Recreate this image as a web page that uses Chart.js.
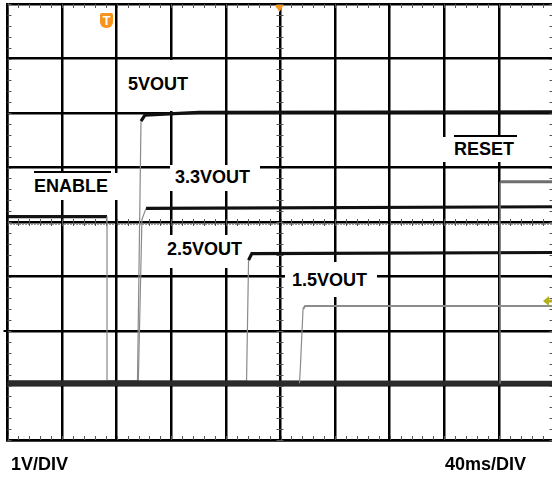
<!DOCTYPE html>
<html><head><meta charset="utf-8">
<script src="https://cdn.jsdelivr.net/npm/chart.js@4.4.1/dist/chart.umd.min.js"></script>
<style>
html,body{margin:0;padding:0;background:#fff;overflow:hidden;width:552px;height:477px;}
#wrap{position:relative;width:562px;height:477px;}
canvas{position:absolute;left:0;top:0;}
.lbl{position:absolute;background:#fff;font:bold 18px "Liberation Sans",Arial,sans-serif;line-height:18px;color:#000;white-space:nowrap;box-sizing:border-box;}
.bar{position:absolute;background:#000;height:2px;}
.txt{position:absolute;font:bold 18px "Liberation Sans",Arial,sans-serif;line-height:18px;color:#000;white-space:nowrap;}
#trig{position:absolute;left:100px;top:13px;width:13px;height:15px;background:#f7941d;border-radius:2px 2px 6px 6px;color:#fff;font:bold 13px "Liberation Sans",Arial,sans-serif;line-height:15px;text-align:center;}
</style></head>
<body>
<div id="wrap">
<canvas id="c" width="562" height="477"></canvas>
<div id="trig">T</div>
<div class="lbl" style="left:124px;top:60px;width:72px;height:51px;padding:15px 0 0 4px;">5VOUT</div>
<div class="lbl" style="left:170px;top:165px;width:90px;height:26px;padding:3px 0 0 5px;">3.3VOUT</div>
<div class="lbl" style="left:30px;top:173px;width:89px;height:27px;padding:4px 0 0 4px;">ENABLE</div>
<div class="bar" style="left:34px;top:171px;width:77px;"></div>
<div class="lbl" style="left:163px;top:235px;width:82px;height:33px;padding:5px 0 0 4px;">2.5VOUT</div>
<div class="lbl" style="left:285px;top:262px;width:92px;height:35px;padding:9px 0 0 7px;">1.5VOUT</div>
<div class="lbl" style="left:440px;top:137px;width:80px;height:25px;padding:3px 0 0 14px;">RESET</div>
<div class="bar" style="left:454px;top:135px;width:63px;"></div>
<div class="txt" style="left:11px;top:455px;">1V/DIV</div>
<div class="txt" style="left:445px;top:455px;">40ms/DIV</div>
</div>
<script>
// ---- data (time in ms, 40 ms/div; voltage in V, 1 V/div) ----
const timeAxisTicks = [0, 40, 80, 120, 160, 200, 240, 280, 320, 360, 400];
const voltAxisTicks = [-1, 0, 1, 2, 3, 4, 5, 6, 7];

const enableT = [0, 72.9, 72.9, 400];
const enableV = [3.1, 3.1, 0.04, 0.04];

const out5T = [0, 95.2, 97.8, 100.7, 140, 400];
const out5V = [0.04, 0.04, 4.85, 4.96, 5.01, 5.02];

const out33T = [0, 95.8, 98.5, 101.5, 400];
const out33V = [0.04, 0.04, 3.05, 3.25, 3.28];

const out25T = [0, 175.1, 176.6, 179, 400];
const out25V = [0.04, 0.04, 2.3, 2.42, 2.44];

const out15T = [0, 213.9, 214.5, 216.5, 218, 400];
const out15V = [0.04, 0.04, 0.3, 1.4, 1.46, 1.46];

const resetT = [0, 360.6, 360.8, 400];
const resetV = [0.04, 0.04, 3.74, 3.74];

const centerMs = 200;
const centerV = 3;

function pts(t, v){ return t.map((x,i)=>({x:x, y:v[i]})); }

function traceSeg(levelColor, levelWidth){
  const isEdge = (a, b) => Math.abs(b.y - a.y) > 0.2;
  const isBase = (a, b) => a.y < 0.1 && b.y < 0.1;
  return {
    borderWidth: ctx => {
      const a = ctx.p0.parsed, b = ctx.p1.parsed;
      if (isBase(a, b)) return 5;
      if (isEdge(a, b)) return 1.2;
      return levelWidth;
    },
    borderColor: ctx => {
      const a = ctx.p0.parsed, b = ctx.p1.parsed;
      if (isBase(a, b)) return '#2b2b2b';
      if (isEdge(a, b)) return '#8a8a8a';
      return levelColor;
    }
  };
}

function ds(label, t, v, color, width){
  return {label, data: pts(t, v), borderColor: color, borderWidth: width,
    pointRadius: 0, tension: 0, fill: false, segment: traceSeg(color, width)};
}

const decor = {
  id: 'scopeDecor',
  beforeDatasetsDraw(chart){
    const c = chart.ctx, ca = chart.chartArea, xs = chart.scales.x, ys = chart.scales.y;
    c.save();
    c.strokeStyle = '#555'; c.lineWidth = 1;
    const yC = ys.getPixelForValue(centerV), xC = xs.getPixelForValue(centerMs);
    c.beginPath();
    for (let t = 0; t <= 400; t += 8){
      const px = Math.round(xs.getPixelForValue(t)) + 0.5;
      c.moveTo(px, ca.top); c.lineTo(px, ca.top + 4);
      c.moveTo(px, ca.bottom - 4); c.lineTo(px, ca.bottom);
      c.moveTo(px, yC - 3); c.lineTo(px, yC + 4);
    }
    for (let k = 0; k <= 40; k++){
      const v = -1 + k * 0.2;
      const py = Math.round(ys.getPixelForValue(v)) + 0.5;
      c.moveTo(ca.left, py); c.lineTo(ca.left + 4, py);
      c.moveTo(ca.right - 4, py); c.lineTo(ca.right, py);
      c.moveTo(xC - 4, py); c.lineTo(xC + 3, py);
    }
    c.stroke();
    c.setLineDash([1, 2]); c.strokeStyle = '#333';
    c.beginPath(); c.moveTo(ca.left, Math.round(yC) + 2.5); c.lineTo(ca.right, Math.round(yC) + 2.5); c.stroke();
    c.setLineDash([]);
    const g = ys.getPixelForValue(1);
    c.strokeStyle = '#000'; c.lineWidth = 2;
    c.beginPath(); c.moveTo(ca.left - 4, g); c.lineTo(ca.left, g); c.stroke();
    c.restore();
  },
  afterDatasetsDraw(chart){
    const c = chart.ctx, ca = chart.chartArea, xs = chart.scales.x, ys = chart.scales.y;
    c.save();
    const cx = xs.getPixelForValue(centerMs) - 1;
    c.fillStyle = '#f7941d';
    c.beginPath(); c.moveTo(cx - 5, ca.top + 1); c.lineTo(cx + 4, ca.top + 1); c.lineTo(cx, ca.top + 8); c.closePath(); c.fill();
    const ay = ys.getPixelForValue(1.55);
    c.fillStyle = '#b0b020';
    c.beginPath(); c.moveTo(543, ay); c.lineTo(549, ay - 5); c.lineTo(549, ay + 5); c.closePath(); c.fill();
    c.fillRect(548, ay - 1.5, 4, 3);
    c.restore();
  }
};

new Chart(document.getElementById('c'), {
  type: 'line',
  data: {
    datasets: [
      ds('1.5VOUT', out15T, out15V, '#8c8c8c', 2),
      ds('RESET', resetT, resetV, '#6e6e6e', 3),
      ds('ENABLE', enableT, enableV, '#141414', 3.2),
      ds('2.5VOUT', out25T, out25V, '#111', 3.2),
      ds('3.3VOUT', out33T, out33V, '#111', 3.2),
      ds('5VOUT', out5T, out5V, '#111', 3.2)
    ]
  },
  options: {
    responsive: false,
    animation: false,
    events: [],
    layout: {padding: {left: 7.5, right: 8.5, top: 4, bottom: 37}},
    plugins: {legend: {display: false}, tooltip: {enabled: false}, title: {display: false}},
    scales: {
      x: {type: 'linear', min: 0, max: 400,
        afterBuildTicks: s => { s.ticks = timeAxisTicks.map(v => ({value: v})); },
        afterFit: s => { s.height = 0; },
        ticks: {display: false},
        grid: {color: '#000', lineWidth: 2.5, drawTicks: false},
        border: {display: true, color: '#000', width: 2.5}},
      y: {type: 'linear', min: -1, max: 7,
        afterBuildTicks: s => { s.ticks = voltAxisTicks.map(v => ({value: v})); },
        afterFit: s => { s.width = 0; },
        ticks: {display: false},
        grid: {color: '#000', lineWidth: 2.5, drawTicks: false},
        border: {display: true, color: '#000', width: 2.5}}
    }
  },
  plugins: [decor]
});
</script>
</body></html>
